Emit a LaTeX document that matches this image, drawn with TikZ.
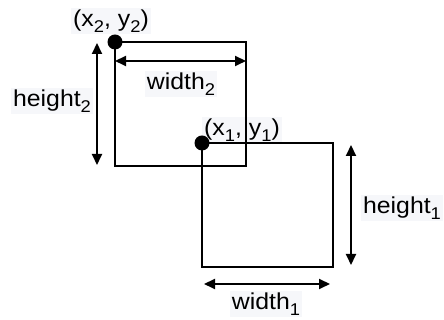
\documentclass[tikz,border=0pt]{standalone}
\usepackage{fontspec}
\setmainfont{Liberation Sans}[FakeStretch=1.08]
\usetikzlibrary{arrows.meta}
\newcommand\subs[1]{\raisebox{-0.25em}{\fontsize{17}{17}\selectfont #1}}
\definecolor{lblbg}{RGB}{246,247,250}
\begin{document}
\begin{tikzpicture}[x=1pt,y=1pt,
  lbl/.style={inner sep=2pt, font=\fontsize{23}{26}\selectfont, fill=lblbg},
  dim/.style={{Triangle[length=11pt,width=10pt]}-{Triangle[length=11pt,width=10pt]}, line width=2pt},
  box/.style={draw, line width=2pt, inner sep=0pt, outer sep=0pt},
  dot/.style={circle, fill, inner sep=0pt, minimum size=15pt}]
\useasboundingbox (0,0) rectangle (444,320);
% labels
\node[lbl] (l2) at (111,299) {(x\subs{2}, y\subs{2})};
\node[lbl] (tw2) at (181,236) {width\subs{2}};
\node[lbl] (th2) at (52,219) {height\subs{2}};
\node[lbl] (l1) at (242,190) {(x\subs{1}, y\subs{1})};
\node[lbl] (th1) at (402,112) {height\subs{1}};
\node[lbl] (tw1) at (266,16) {width\subs{1}};
% rectangles
\node[box, minimum width=131pt, minimum height=124pt, anchor=north west] (r2) at (115,278) {};
\node[box, minimum width=131pt, minimum height=124pt, anchor=north west] (r1) at (202,177) {};
\node[dot] (p2) at (r2.north west) {};
\node[dot] (p1) at (r1.north west) {};
% dimension arrows
\coordinate (w2a) at (115,259); \coordinate (w2b) at (246,259);
\coordinate (h2a) at (97,277);  \coordinate (h2b) at (97,155);
\coordinate (h1a) at (351,175); \coordinate (h1b) at (351,55);
\coordinate (w1a) at (204,36);  \coordinate (w1b) at (330,36);
\draw[dim] (w2a) -- (w2b);
\draw[dim] (h2a) -- (h2b);
\draw[dim] (h1a) -- (h1b);
\draw[dim] (w1a) -- (w1b);
\end{tikzpicture}
\end{document}
